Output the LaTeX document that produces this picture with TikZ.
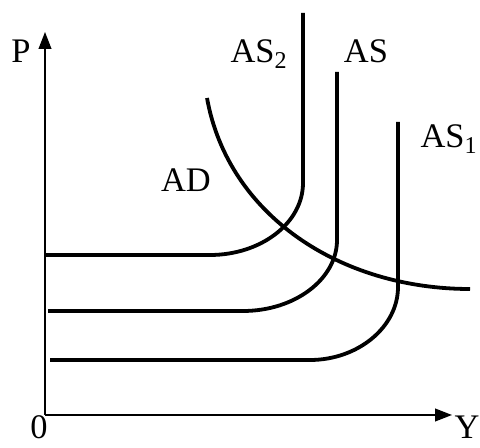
\documentclass[tikz,border=0pt]{standalone}
\usepackage{fontspec}
\setmainfont{Liberation Serif}
\usetikzlibrary{arrows.meta}
\tikzset{
    axis/.style={line width=1.2pt, -{Triangle[length=12pt, width=9pt]}},
    curve/.style={line width=2.7pt},
    lbl/.style={anchor=base, inner sep=0pt, font=\fontsize{24.5}{28}\selectfont}
}
\begin{document}
\begin{tikzpicture}[x=0.25mm,y=0.25mm]
\useasboundingbox (0,0) rectangle (480,448);
% axes
\coordinate (O) at (45,33);
\coordinate (Ptip) at (45,416);
\coordinate (Ytip) at (452,33);
\draw[axis] (O) -- (Ptip);
\draw[axis] (O) -- (Ytip);
\node[lbl] (Plbl) at (21,385) {P};
\node[lbl] (Ylbl) at (467,9) {Y};
\node[lbl] (Olbl) at (39,9) {0};

% supply curves
\draw[curve] (45,193) -- (210,193) .. controls (261,193) and (303,225) .. (303,265) -- (303,435);
\draw[curve] (48,137) -- (243,137) .. controls (295,137) and (337,169) .. (337,208) -- (337,376);
\draw[curve] (50,88) -- (310,88) .. controls (358,88) and (398,121) .. (398,161) -- (398,326);

% demand curve
\draw[curve] (207,350) .. controls (228,233) and (340,159) .. (470,159);

\node[lbl] (AStwo) at (259,385) {AS\textsubscript{2}};
\node[lbl] (AS) at (366,385) {AS};
\node[lbl] (ASone) at (449,300) {AS\textsubscript{1}};
\node[lbl] (AD) at (186,256) {AD};
\end{tikzpicture}
\end{document}
